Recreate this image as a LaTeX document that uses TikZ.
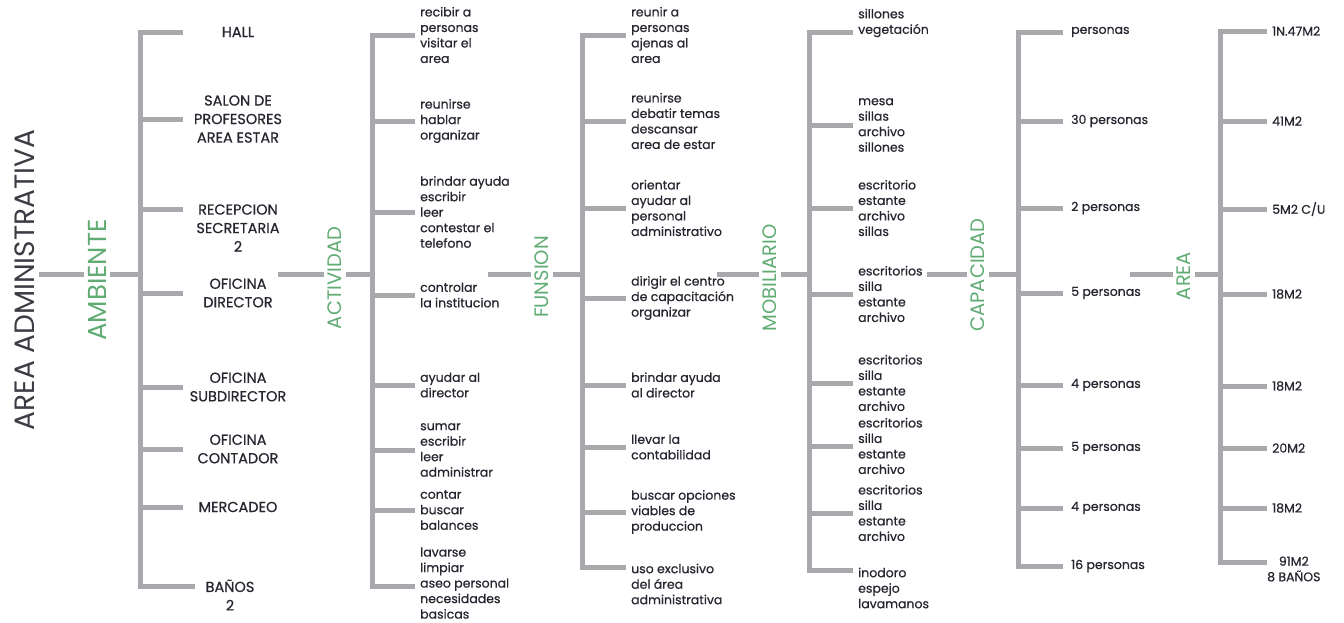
\documentclass[tikz,border=0pt]{standalone}
\usepackage{fontspec}
\setmainfont{Poppins}
\newfontfamily\inkfont{Poppins}[FakeBold=0.6]
\usepackage{xcolor}
\usepackage{tikz}
\definecolor{bargray}{RGB}{167,169,172}
\definecolor{leafgreen}{RGB}{96,172,116}
\definecolor{inkdark}{RGB}{38,38,48}

\begin{document}
\begin{tikzpicture}[x=1pt, y=-1pt,
            bar/.style={draw=bargray, line width=5pt},
            rootlabel/.style={rotate=90, inner sep=4pt, text=inkdark!90, font=\fontsize{28}{32}\selectfont},
            category/.style={rotate=90, inner sep=4pt, text=leafgreen, font=\fontsize{19.5}{23}\selectfont},
            room/.style={align=center, inner sep=0pt, minimum width=110pt, text=inkdark, font=\inkfont\fontsize{14.5}{18.5}\selectfont},
            task/.style={anchor=west, align=left, inner xsep=5pt, inner ysep=0pt, text=inkdark, font=\inkfont\fontsize{12.5}{15.5}\selectfont}]

            \path [use as bounding box, fill=white] (0,0) rectangle (1344,622);

            % Root
            \node (root) [rootlabel] at (25,280) {AREA ADMINISTRATIVA};

            % Ambiente
            \node (ambiente) [category, font=\fontsize{26}{30}\selectfont] at (97,280) {AMBIENTE};
            \coordinate (s1) at (140,274);
            \node (hall) [room] at (238,32) {HALL};
            \node (salon) [room] at (238,119) {SALON DE\\PROFESORES\\AREA ESTAR};
            \node (recep) [room] at (238,228) {RECEPCION\\SECRETARIA\\2};
            \node (director) [room] at (238,293) {OFICINA\\DIRECTOR};
            \node (subdir) [room] at (238,387) {OFICINA\\SUBDIRECTOR};
            \node (contador) [room] at (238,449) {OFICINA\\CONTADOR};
            \node (mercadeo) [room] at (238,507) {MERCADEO};
            \node (banos) [room, minimum width=70pt] at (230,595) {BAÑOS\\2};

            % Actividad
            \coordinate (j1) at (278,274);
            \node (actividad) [category] at (335,278) {ACTIVIDAD};
            \coordinate (s2) at (372,274);
            \node (recibir) [task] at (415,35) {recibir a\\personas\\visitar el\\area};
            \node (hablar) [task] at (415,121) {reunirse\\hablar\\organizar};
            \node (contestar) [task] at (415,212) {brindar ayuda\\escribir\\leer\\contestar el\\telefono};
            \node (controlar) [task] at (415,295) {controlar\\la institucion};
            \node (ayudar) [task] at (415,385) {ayudar al\\director};
            \node (sumar) [task] at (415,450) {sumar\\escribir\\leer\\administrar};
            \node (contar) [task] at (415,510) {contar\\buscar\\balances};
            \node (lavarse) [task] at (415,583) {lavarse\\limpiar\\aseo personal\\necesidades\\basicas};

            % Funsion
            \coordinate (j2) at (488,274);
            \node (funsion) [category] at (542,277) {FUNSION};
            \coordinate (s3) at (582,274);
            \node (reunir) [task] at (626,35) {reunir a\\personas\\ajenas al\\area};
            \node (debatir) [task] at (626,121) {reunirse\\debatir temas\\descansar\\area de estar};
            \node (orientar) [task] at (626,208) {orientar\\ayudar al\\personal\\administrativo};
            \node (dirigir) [task] at (626,298) {dirigir el centro\\de capacitación\\organizar};
            \node (asistir) [task] at (626,385) {brindar ayuda\\al director};
            \node (llevar) [task] at (626,447) {llevar la\\contabilidad};
            \node (buscar) [task] at (626,512) {buscar opciones\\viables de\\produccion};
            \node (exclusivo) [task] at (626,584) {uso exclusivo\\del área\\administrativa};

            % Mobiliario
            \coordinate (j3) at (717,274);
            \node (mobiliario) [category] at (770,278) {MOBILIARIO};
            \coordinate (s4) at (809,274);
            \node (sillones) [task] at (853,23) {sillones\\vegetación};
            \node (mesa) [task] at (853,125) {mesa\\sillas\\archivo\\sillones};
            \node (escritorio) [task] at (853,208) {escritorio\\estante\\archivo\\sillas};
            \node (esc1) [task] at (853,294) {escritorios\\silla\\estante\\archivo};
            \node (esc2) [task] at (853,383) {escritorios\\silla\\estante\\archivo};
            \node (esc3) [task] at (853,446) {escritorios\\silla\\estante\\archivo};
            \node (esc4) [task] at (853,513) {escritorios\\silla\\estante\\archivo};
            \node (inodoro) [task] at (853,588) {inodoro\\espejo\\lavamanos};

            % Capacidad
            \coordinate (j4) at (927,274);
            \node (capacidad) [category] at (978,275) {CAPACIDAD};
            \coordinate (s5) at (1018,274);
            \node (cap1) [task, inner xsep=8pt] at (1063,32) {personas};
            \node (cap2) [task, inner xsep=8pt] at (1063,121) {30 personas};
            \node (cap3) [task, inner xsep=8pt] at (1063,208) {2 personas};
            \node (cap4) [task, inner xsep=8pt] at (1063,293) {5 personas};
            \node (cap5) [task, inner xsep=8pt] at (1063,385) {4 personas};
            \node (cap6) [task, inner xsep=8pt] at (1063,448) {5 personas};
            \node (cap7) [task, inner xsep=8pt] at (1063,508) {4 personas};
            \node (cap8) [task, inner xsep=8pt] at (1063,566) {16 personas};

            % Area
            \coordinate (j5) at (1130,274);
            \node (area) [category] at (1184,276) {AREA};
            \coordinate (s6) at (1220,274);
            \node (m1) [task] at (1267,31) {1N.47M2};
            \node (m2) [task] at (1267,121) {41M2};
            \node (m3) [task] at (1267,209) {5M2 C/U};
            \node (m4) [task] at (1267,294) {18M2};
            \node (m5) [task] at (1267,386) {18M2};
            \node (m6) [task] at (1267,448) {20M2};
            \node (m7) [task] at (1267,508) {18M2};
            \node (m8) [task, align=center, inner xsep=0pt] at (1267,569) {91M2\\8 BAÑOS};

            % Connections
            \draw [bar] (root.south |- s1) -- (s1 -| ambiente.north);
            \draw [bar] (ambiente.south |- s1) -- (s1);
            \draw [bar] (hall.west) -| (s1) |- ([yshift=9pt]banos.west);
            \draw [bar] (s1) |- (salon.west);
            \draw [bar] (s1) |- ([yshift=19pt]recep.west);
            \draw [bar] (s1) |- (director.west);
            \draw [bar] (s1) |- (subdir.west);
            \draw [bar] (s1) |- (contador.west);
            \draw [bar] (s1) |- (mercadeo.west);

            \draw [bar] (j1) -- (j1 -| actividad.north);
            \draw [bar] (actividad.south |- s2) -- (s2);
            \draw [bar] (recibir.west) -| (s2) |- ([yshift=-3pt]lavarse.west);
            \draw [bar] (s2) |- (hablar.west);
            \draw [bar] (s2) |- (contestar.west);
            \draw [bar] (s2) |- (controlar.west);
            \draw [bar] (s2) |- (ayudar.west);
            \draw [bar] (s2) |- (sumar.west);
            \draw [bar] (s2) |- (contar.west);

            \draw [bar] (j2) -- (j2 -| funsion.north);
            \draw [bar] (funsion.south |- s3) -- (s3);
            \draw [bar] (reunir.west) -| (s3) |- ([yshift=17pt]exclusivo.west);
            \draw [bar] (s3) |- (debatir.west);
            \draw [bar] (s3) |- (orientar.west);
            \draw [bar] (s3) |- (dirigir.west);
            \draw [bar] (s3) |- (asistir.west);
            \draw [bar] (s3) |- (llevar.west);
            \draw [bar] (s3) |- (buscar.west);

            \draw [bar] (j3) -- (j3 -| mobiliario.north);
            \draw [bar] (mobiliario.south |- s4) -- (s4);
            \draw [bar] ([yshift=-9pt]sillones.west) -| (s4) |- ([yshift=18pt]inodoro.west);
            \draw [bar] (s4) |- (mesa.west);
            \draw [bar] (s4) |- (escritorio.west);
            \draw [bar] (s4) |- (esc1.west);
            \draw [bar] (s4) |- (esc2.west);
            \draw [bar] (s4) |- (esc3.west);
            \draw [bar] (s4) |- (esc4.west);

            \draw [bar] (j4) -- (j4 -| capacidad.north);
            \draw [bar] (capacidad.south |- s5) -- (s5);
            \draw [bar] (cap1.west) -| (s5) |- (cap8.west);
            \draw [bar] (s5) |- (cap2.west);
            \draw [bar] (s5) |- (cap3.west);
            \draw [bar] (s5) |- (cap4.west);
            \draw [bar] (s5) |- (cap5.west);
            \draw [bar] (s5) |- (cap6.west);
            \draw [bar] (s5) |- (cap7.west);

            \draw [bar] (j5) -- (j5 -| area.north);
            \draw [bar] (area.south |- s6) -- (s6);
            \draw [bar] (m1.west) -| (s6) |- ([yshift=7pt]m8.west);
            \draw [bar] (s6) |- (m2.west);
            \draw [bar] (s6) |- (m3.west);
            \draw [bar] (s6) |- (m4.west);
            \draw [bar] (s6) |- (m5.west);
            \draw [bar] (s6) |- (m6.west);
            \draw [bar] (s6) |- (m7.west);
        \end{tikzpicture}
\end{document}
